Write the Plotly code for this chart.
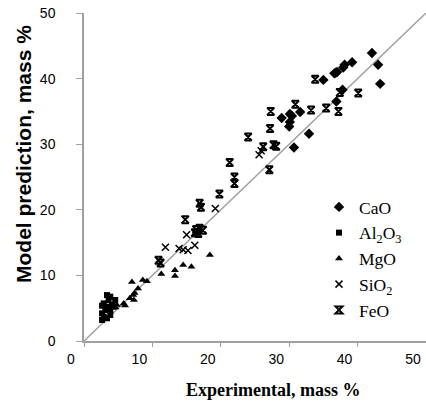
import plotly.graph_objects as go

# ---- data (experimental vs model prediction, mass %) ----
cao_exp = [42.1, 43.0, 43.3, 39.2, 38.1, 37.9, 36.8, 36.6, 37.0, 35.0, 37.8, 36.9,
           31.6, 30.4, 30.1, 28.9, 30.1, 30.0, 32.9, 30.7]
cao_mod = [43.9, 42.1, 39.2, 42.5, 42.1, 41.7, 40.9, 40.8, 41.0, 39.8, 38.3, 36.5,
           34.9, 34.3, 34.6, 34.0, 33.4, 32.7, 31.6, 29.5]

al2o3_exp = [3.36, 3.84, 3.6, 2.88, 2.64, 3.36, 4.08, 3.12, 3.84, 2.64, 2.88, 3.36,
             3.84, 2.64, 4.32, 4.56]
al2o3_mod = [7.0, 6.76, 6.25, 5.74, 5.38, 5.23, 5.49, 4.73, 4.57, 4.22, 3.71, 3.46,
             3.96, 3.2, 5.23, 6.25]

mgo_exp = [18.4, 14.5, 15.7, 13.3, 13.3, 11.3, 7.0, 8.6, 9.2, 7.9, 7.4, 7.2, 6.7,
           7.3, 5.8, 6.0, 4.8, 4.6]
mgo_mod = [13.1, 11.6, 11.3, 10.8, 9.9, 10.2, 9.0, 9.3, 9.1, 8.0, 7.3, 7.0, 6.5,
           6.25, 5.7, 5.4, 5.5, 5.1]

sio2_exp = [25.9, 25.6, 19.2, 15.0, 16.2, 11.9, 13.9, 14.5, 15.2]
sio2_mod = [29.0, 28.4, 20.2, 16.2, 14.6, 14.3, 14.1, 13.9, 13.8]

feo_exp = [33.8, 37.4, 40.1, 37.2, 35.4, 33.2, 30.9, 27.3, 27.2, 27.7, 28.1, 27.1,
           24.0, 26.2, 21.3, 22.0, 22.0, 19.8, 16.9, 17.1, 14.8, 16.4, 16.9, 17.4,
           16.2, 16.7, 10.9, 11.2]
feo_mod = [39.9, 37.9, 37.8, 35.0, 35.5, 35.2, 36.1, 35.0, 32.4, 29.9, 29.7, 26.1,
           31.1, 29.6, 27.2, 25.0, 24.0, 22.4, 21.0, 20.4, 18.5, 17.0, 17.2, 16.9,
           16.5, 16.4, 12.3, 11.9]

parity = [0, 50]
x_ticks = [0, 10, 20, 30, 40, 50]
y_ticks = [0, 10, 20, 30, 40, 50]

fig = go.Figure()
fig.add_trace(go.Scatter(x=parity, y=parity, mode="lines",
                         line=dict(color="#a0a0a0", width=1.5),
                         showlegend=False, hoverinfo="skip"))

fig.add_trace(go.Scatter(x=cao_exp, y=cao_mod, mode="markers", name="CaO",
                         marker=dict(symbol="diamond", size=8, color="black")))
fig.add_trace(go.Scatter(x=al2o3_exp, y=al2o3_mod, mode="markers",
                         name="Al<sub>2</sub>O<sub>3</sub>",
                         marker=dict(symbol="square", size=6, color="black")))
fig.add_trace(go.Scatter(x=mgo_exp, y=mgo_mod, mode="markers", name="MgO",
                         marker=dict(symbol="triangle-up", size=7, color="black")))
fig.add_trace(go.Scatter(x=sio2_exp, y=sio2_mod, mode="markers",
                         name="SiO<sub>2</sub>",
                         marker=dict(symbol="x-thin-open", size=7, color="black",
                                     line=dict(width=1.5, color="black"))))
fig.add_trace(go.Scatter(x=feo_exp, y=feo_mod, mode="markers", name="FeO",
                         marker=dict(symbol="hourglass-open", size=7, color="black",
                                     line=dict(width=2, color="black"))))

W, H = 426, 403
L, R, T, B = 84, 0, 13, 62

fig.update_layout(
    width=W, height=H,
    margin=dict(l=L, r=R, t=T, b=B),
    paper_bgcolor="white", plot_bgcolor="white",
    showlegend=True,
    legend=dict(x=(319 - L) / (W - L - R), y=(341 - 189) / (H - T - B),
                xanchor="left", yanchor="top",
                font=dict(family="Liberation Serif, Times New Roman, serif",
                          size=17.5, color="black"),
                bgcolor="rgba(0,0,0,0)", tracegroupgap=0),
    xaxis=dict(range=[0, 50], tickvals=x_ticks, showgrid=False, zeroline=False,
               showline=True, linecolor="#a0a0a0", linewidth=1.5,
               ticks="outside", ticklen=4, tickcolor="#a0a0a0", tickwidth=1,
               ticklabelshift=-13,
               tickfont=dict(family="Liberation Sans, Arial, sans-serif",
                             size=14, color="black")),
    yaxis=dict(range=[0, 50], tickvals=y_ticks, showgrid=False, zeroline=False,
               showline=True, linecolor="#a0a0a0", linewidth=1.5,
               ticks="outside", ticklen=6, tickcolor="#a0a0a0", tickwidth=1,
               ticklabelstandoff=18,
               tickfont=dict(family="Liberation Sans, Arial, sans-serif",
                             size=14, color="black")),
    annotations=[
        dict(text="<b>Model prediction, mass %</b>", xref="paper", yref="paper",
             x=(23 - L) / (W - L - R), y=(341 - 154) / (H - T - B),
             xanchor="center", yanchor="middle", textangle=-90, showarrow=False,
             font=dict(family="Liberation Sans, Arial, sans-serif", size=21,
                       color="black")),
        dict(text="<b>Experimental, mass %</b>", xref="paper", yref="paper",
             x=(273 - L) / (W - L - R), y=(341 - 390) / (H - T - B),
             xanchor="center", yanchor="middle", showarrow=False,
             font=dict(family="Liberation Serif, Times New Roman, serif", size=18,
                       color="black")),
    ],
)

fig.write_html("out.html",
               config={"displayModeBar": False},
               post_script="document.body.style.margin='0';"
                           "document.body.style.overflow='hidden';")
